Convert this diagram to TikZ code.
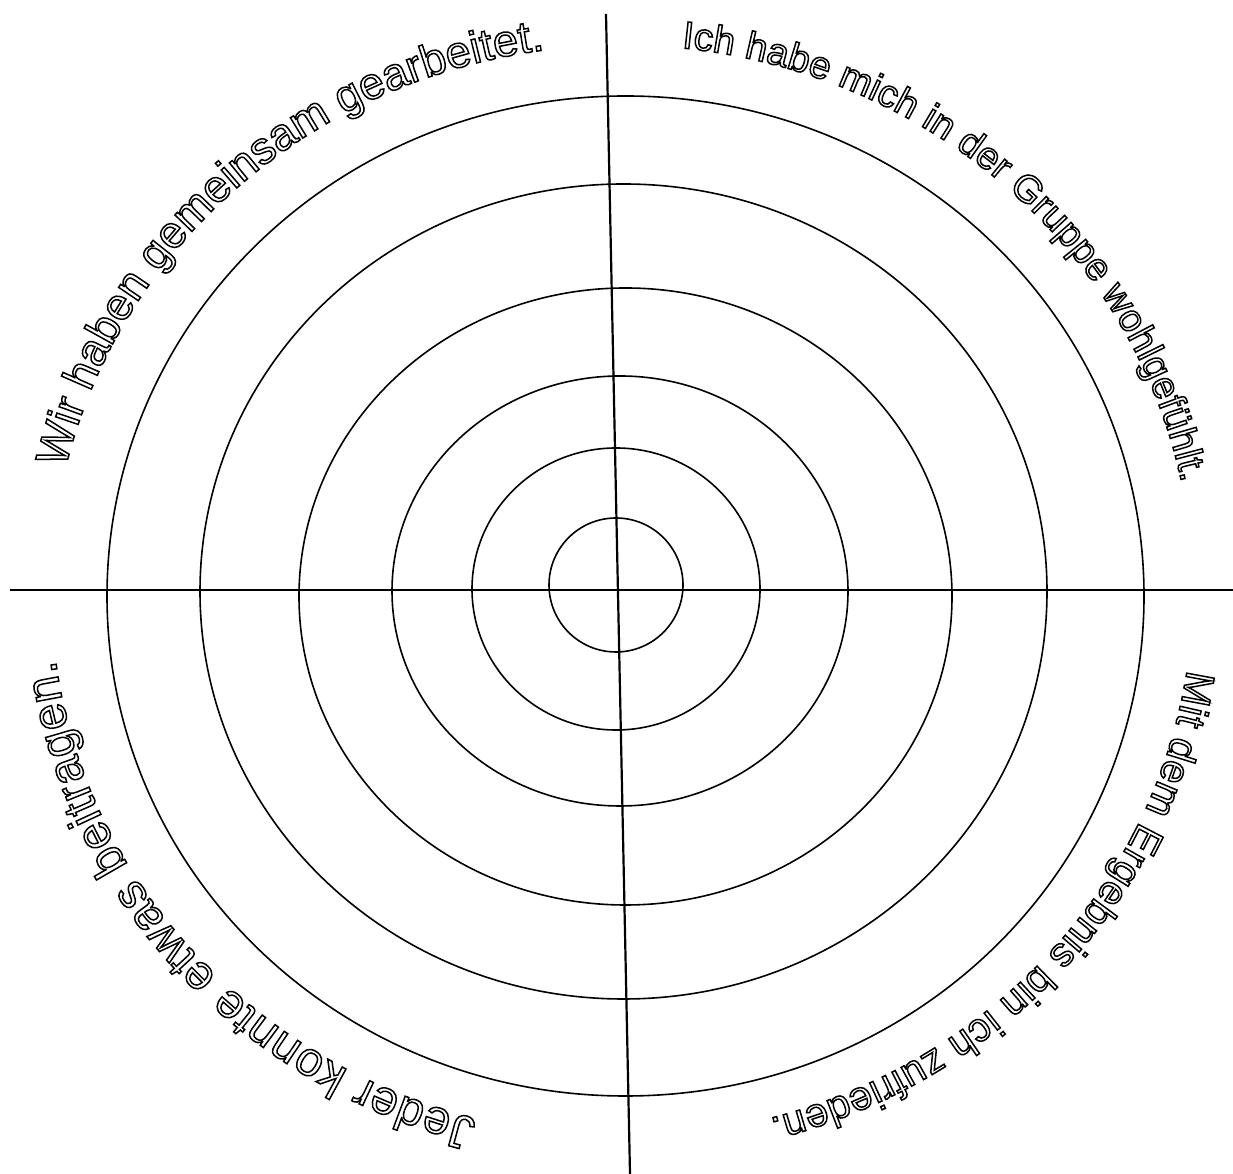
\documentclass[tikz,border=0pt]{standalone}
\usepackage{fontspec}
\newfontfamily\lab{Liberation Sans}
\usetikzlibrary{decorations.text}
\newcommand\olfmt[1]{\lab\fontsize{#1}{#1}\selectfont\special{pdf:literal direct 1 Tr 1.5 w}}
\tikzset{
  ring/.style={draw=black, line width=1.6pt},
  axisline/.style={draw=black, line width=2.2pt},
}
\begin{document}
\begin{tikzpicture}[x=1pt,y=1pt]
\useasboundingbox (0,0) rectangle (1233,1174);
% axes
\coordinate (hl) at (10,584);
\coordinate (hr) at (1233,584);
\coordinate (vt) at (606,1160);
\coordinate (vb) at (630,0);
\draw[axisline] (hl) -- (hr);
\draw[axisline] (vt) -- (vb);
% rings
\draw[ring] (616,589) ellipse [x radius=67, y radius=67];
\draw[ring] (616,585) ellipse [x radius=144, y radius=141];
\draw[ring] (620,583) ellipse [x radius=228, y radius=215];
\draw[ring] (625.5,577.5) ellipse [x radius=326.5, y radius=308.5];
\draw[ring] (623.5,582.5) ellipse [x radius=423.5, y radius=407.5];
\draw[ring] (625.5,578) ellipse [x radius=518.5, y radius=500];
% text paths
\coordinate (tc) at (622,583);
\path[decorate, decoration={text along path, text align=fit to path,
  text={|\olfmt{45}|Wir haben gemeinsam gearbeitet.}}]
  (tc) ++(167:571 and 546) arc[start angle=167, end angle=97.8, x radius=571, y radius=546];
\path[decorate, decoration={text along path, text align=fit to path,
  text={|\olfmt{38.5}|Ich habe mich in der Gruppe wohlgefühlt.}}]
  (tc) ++(84:571 and 546) arc[start angle=84, end angle=11.5, x radius=571, y radius=546];
\path[decorate, decoration={text along path, text align=fit to path,
  text={|\olfmt{40.8}|Mit dem Ergebnis bin ich zufrieden.}}]
  (tc) ++(-8.3:571 and 546) arc[start angle=-8.3, end angle=-75, x radius=571, y radius=546];
\path[decorate, decoration={text along path, text align=fit to path,
  text={|\olfmt{48}|Jeder konnte etwas beitragen.}}]
  (tc) ++(255.3:571 and 546) arc[start angle=255.3, end angle=187.3, x radius=571, y radius=546];
\end{tikzpicture}
\end{document}
